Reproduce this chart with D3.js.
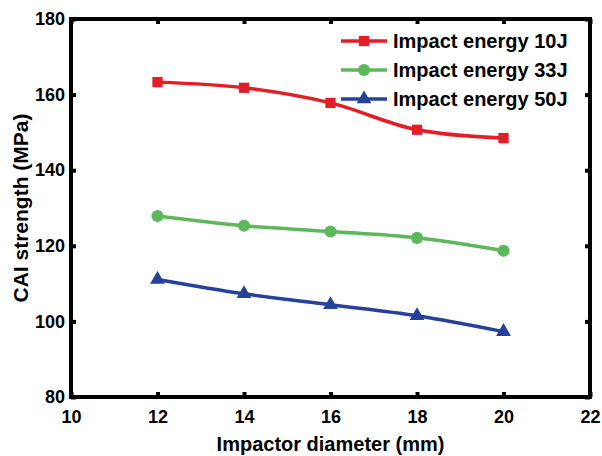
<!DOCTYPE html>
<html>
<head>
<meta charset="utf-8">
<script src="https://cdn.jsdelivr.net/npm/d3@7"></script>
<style>
  body { margin: 0; background: #fff; }
  svg { display: block; font-family: "Liberation Sans", Arial, sans-serif; font-weight: bold; }
</style>
</head>
<body>
<svg id="chart" width="602" height="456"></svg>
<script>
// Impactor diameter (mm)
const diameters = [12, 14, 16, 18, 20];
// CAI strength (MPa) per impact energy
const energy10J = [163.3, 161.8, 157.8, 150.7, 148.5];
const energy33J = [127.9, 125.3, 123.8, 122.1, 118.7];
const energy50J = [111.1, 107.3, 104.4, 101.5, 97.3];
const seriesNames = ["Impact energy 10J", "Impact energy 33J", "Impact energy 50J"];
const xTicks = [10, 12, 14, 16, 18, 20, 22];
const yTicks = [80, 100, 120, 140, 160, 180];

const series = [
  { name: seriesNames[0], values: energy10J, color: "#e41e26", marker: "square" },
  { name: seriesNames[1], values: energy33J, color: "#5cb85a", marker: "circle" },
  { name: seriesNames[2], values: energy50J, color: "#26419a", marker: "triangle" }
];

const svg = d3.select("#chart");
const plotLeft = 71, plotRight = 590, plotTop = 19, plotBottom = 397;

const x = d3.scaleLinear().domain([10, 22]).range([plotLeft, plotRight]);
const y = d3.scaleLinear().domain([80, 180]).range([plotBottom, plotTop]);

// Series lines
const line = d3.line()
  .x((d, i) => x(diameters[i]))
  .y(d => y(d))
  .curve(d3.curveMonotoneX);

const symbolFor = {
  square: d3.symbolSquare,
  circle: d3.symbolCircle,
  triangle: d3.symbolTriangle
};
const sizeFor = { square: 105, circle: 115, triangle: 95 };

const g = svg.append("g");
series.forEach(s => {
  g.append("path")
    .attr("d", line(s.values))
    .attr("fill", "none")
    .attr("stroke", s.color)
    .attr("stroke-width", 3.5);
  g.selectAll(null)
    .data(s.values)
    .enter()
    .append("path")
    .attr("transform", (d, i) => `translate(${x(diameters[i])},${y(d)})`)
    .attr("d", d3.symbol().type(symbolFor[s.marker]).size(sizeFor[s.marker]))
    .attr("fill", s.color);
});

// Axes with inward ticks on all four sides
const tickLen = 5;
const bottomAxis = d3.axisBottom(x).tickValues(xTicks).tickSize(-tickLen).tickPadding(13).tickFormat(d3.format("d"));
const leftAxis = d3.axisLeft(y).tickValues(yTicks).tickSize(-tickLen).tickPadding(6).tickFormat(d3.format("d"));
const topAxis = d3.axisTop(x).tickValues(xTicks).tickSize(-tickLen).tickFormat("");
const rightAxis = d3.axisRight(y).tickValues(yTicks).tickSize(-tickLen).tickFormat("");

function styleAxis(sel) {
  sel.select(".domain").remove();
  sel.selectAll(".tick line").attr("stroke", "#000").attr("stroke-width", 4);
  sel.selectAll(".tick text").attr("fill", "#000").style("font-size", "18px").style("font-weight", "bold");
}

svg.append("g").attr("transform", `translate(0,${plotBottom})`).call(bottomAxis).call(styleAxis);
svg.append("g").attr("transform", `translate(${plotLeft},0)`).call(leftAxis).call(styleAxis);
svg.append("g").attr("transform", `translate(0,${plotTop})`).call(topAxis).call(styleAxis);
svg.append("g").attr("transform", `translate(${plotRight},0)`).call(rightAxis).call(styleAxis);

// Plot frame
svg.append("rect")
  .attr("x", plotLeft).attr("y", plotTop)
  .attr("width", plotRight - plotLeft).attr("height", plotBottom - plotTop)
  .attr("fill", "none").attr("stroke", "#000").attr("stroke-width", 4);

// Axis titles
svg.append("text")
  .attr("x", (plotLeft + plotRight) / 2).attr("y", 451)
  .attr("text-anchor", "middle")
  .style("font-size", "20px")
  .text("Impactor diameter (mm)");

svg.append("text")
  .attr("transform", `translate(28,${(plotTop + plotBottom) / 2}) rotate(-90)`)
  .attr("text-anchor", "middle")
  .style("font-size", "21px")
  .text("CAI strength (MPa)");

// Legend
const legend = svg.append("g").attr("transform", "translate(341,41)");
series.forEach((s, i) => {
  const row = legend.append("g").attr("transform", `translate(0,${i * 29})`);
  row.append("line").attr("x1", 0).attr("x2", 46).attr("y1", 0).attr("y2", 0)
    .attr("stroke", s.color).attr("stroke-width", 3.5);
  row.append("path")
    .attr("transform", "translate(23,0)")
    .attr("d", d3.symbol().type(symbolFor[s.marker]).size(sizeFor[s.marker]))
    .attr("fill", s.color);
  row.append("text").attr("x", 52).attr("y", 7)
    .style("font-size", "20px")
    .text(s.name);
});
</script>
</body>
</html>
